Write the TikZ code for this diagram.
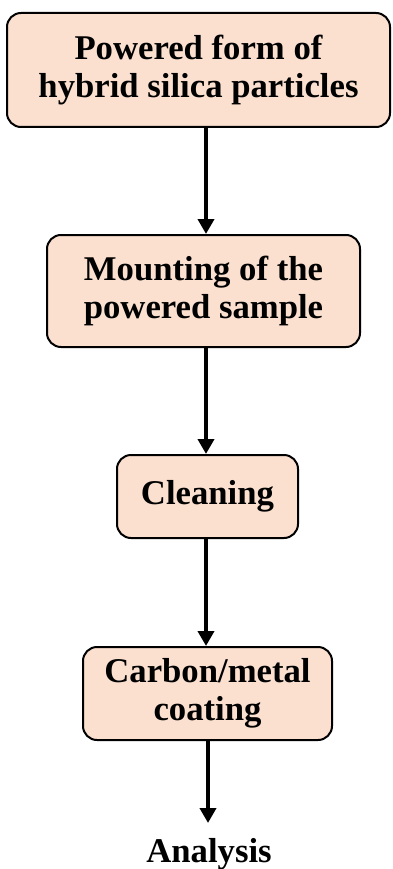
\documentclass[tikz,border=0pt]{standalone}
\usepackage{fontspec}
\setmainfont{Liberation Serif}
\usetikzlibrary{arrows.meta}
\definecolor{boxfill}{RGB}{251,224,208}
\begin{document}
\begin{tikzpicture}[x=1pt,y=-1pt,
  stepbox/.style={draw=black, line width=2pt, fill=boxfill, rounded corners=14pt,
    align=center, inner sep=0pt, font=\bfseries\fontsize{34.7}{38}\selectfont},
  flow/.style={line width=4pt, -{Triangle[width=16pt,length=15pt]}}]
\useasboundingbox (0,0) rectangle (393,869);
\node[stepbox, minimum width=383pt, minimum height=114pt] (b1) at (198.5,70) {Powered form of\\hybrid silica particles};
\node[stepbox, minimum width=313pt, minimum height=112pt] (b2) at (203.5,291) {Mounting of the\\powered sample};
\node[stepbox, minimum width=181pt, minimum height=83pt] (b3) at (207.5,496.5) {Cleaning};
\node[stepbox, minimum width=249pt, minimum height=93pt] (b4) at (207.5,693.5) {Carbon/metal\\coating};
\node[font=\bfseries\fontsize{34.7}{38}\selectfont, inner sep=0pt, anchor=base] (an) at (209,862) {Analysis};
\coordinate (ax) at (206,0);
\draw[flow] (b1.south -| ax) -- (b2.north -| ax);
\draw[flow] (b2.south -| ax) -- (b3.north -| ax);
\draw[flow] (b3.south -| ax) -- (b4.north -| ax);
\coordinate (aend) at (208,823);
\draw[flow] (b4.south -| aend) -- (aend);
\end{tikzpicture}
\end{document}
